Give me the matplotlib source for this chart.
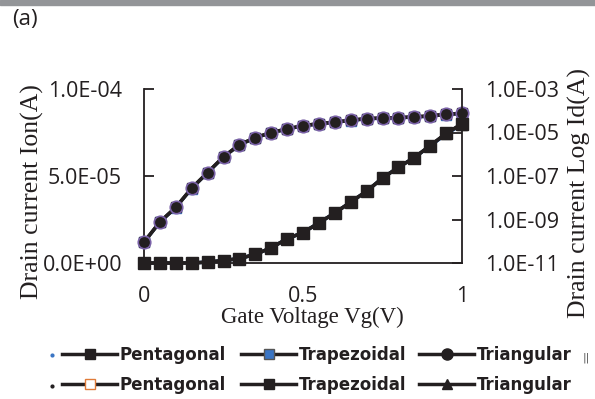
import matplotlib
matplotlib.use("Agg")
import matplotlib.pyplot as plt
from matplotlib.lines import Line2D
from matplotlib.patches import Rectangle
from matplotlib.ticker import FixedLocator, FixedFormatter

# ---- data ----
vg = [0.00, 0.05, 0.10, 0.15, 0.20, 0.25, 0.30, 0.35, 0.40, 0.45, 0.50,
      0.55, 0.60, 0.65, 0.70, 0.75, 0.80, 0.85, 0.90, 0.95, 1.00]

# linear drain current Ion (A)
ion_pent = [1.20e-5, 2.36e-5, 3.20e-5, 4.30e-5, 5.20e-5, 6.10e-5, 6.80e-5,
            7.20e-5, 7.50e-5, 7.70e-5, 7.90e-5, 8.00e-5, 8.10e-5, 8.20e-5,
            8.30e-5, 8.33e-5, 8.35e-5, 8.40e-5, 8.45e-5, 8.55e-5, 8.60e-5]
ion_trap = [1.18e-5, 2.34e-5, 3.18e-5, 4.28e-5, 5.18e-5, 6.08e-5, 6.78e-5,
            7.18e-5, 7.48e-5, 7.68e-5, 7.88e-5, 7.98e-5, 8.08e-5, 8.18e-5,
            8.28e-5, 8.31e-5, 8.33e-5, 8.38e-5, 8.43e-5, 8.53e-5, 8.58e-5]
ion_tri = [1.20e-5, 2.36e-5, 3.20e-5, 4.30e-5, 5.20e-5, 6.10e-5, 6.80e-5,
           7.20e-5, 7.50e-5, 7.70e-5, 7.90e-5, 8.00e-5, 8.10e-5, 8.20e-5,
           8.30e-5, 8.33e-5, 8.35e-5, 8.40e-5, 8.45e-5, 8.55e-5, 8.60e-5]

# log drain current Id (A)
id_pent = [1.0e-11, 1.0e-11, 1.0e-11, 1.0e-11, 1.1e-11, 1.3e-11, 1.6e-11,
           2.5e-11, 5.0e-11, 1.3e-10, 2.5e-10, 7.0e-10, 2.0e-9, 6.3e-9,
           2.0e-8, 8.0e-8, 2.5e-7, 7.0e-7, 2.4e-6, 8.5e-6, 2.3e-5]
id_trap = [1.0e-11, 1.0e-11, 1.0e-11, 1.0e-11, 1.1e-11, 1.3e-11, 1.6e-11,
           2.5e-11, 5.0e-11, 1.3e-10, 2.5e-10, 7.0e-10, 2.0e-9, 6.3e-9,
           2.0e-8, 8.0e-8, 2.5e-7, 7.0e-7, 2.5e-6, 9.0e-6, 2.5e-5]
id_tri = [1.0e-11, 1.0e-11, 1.0e-11, 1.0e-11, 1.1e-11, 1.3e-11, 1.6e-11,
          2.5e-11, 5.0e-11, 1.3e-10, 2.5e-10, 7.0e-10, 2.0e-9, 6.3e-9,
          2.0e-8, 8.0e-8, 2.5e-7, 7.0e-7, 2.5e-6, 9.0e-6, 2.5e-5]

left_ticks = [0.0, 5.0e-5, 1.0e-4]
left_labels = ["0.0E+00", "5.0E-05", "1.0E-04"]
right_ticks = [1e-11, 1e-9, 1e-7, 1e-5, 1e-3]
right_labels = ["1.0E-11", "1.0E-09", "1.0E-07", "1.0E-05", "1.0E-03"]
x_ticks = [0, 0.5, 1]
x_labels = ["0", "0.5", "1"]
names = ["Pentagonal", "Trapezoidal", "Triangular"]

INK = "#231f20"
BLUE = "#3a75c4"
PURPLE = "#7b62a8"

# ---- figure ----
W, H = 595, 399
fig = plt.figure(figsize=(W / 100, H / 100), dpi=100)
fig.patches.append(Rectangle((0, 1 - 5 / H), 1, 5 / H, transform=fig.transFigure,
                             color="#939598", zorder=0))
fig.text(12 / W, 1 - 19 / H, "(a)", fontsize=16, family="Open Sans",
         va="center", ha="left", color=INK)

x0, x1, ytop, ybot = 144, 462, 89, 263
ax = fig.add_axes([x0 / W, 1 - ybot / H, (x1 - x0) / W, (ybot - ytop) / H])
ax2 = ax.twinx()

serif = "Liberation Serif"

# linear series
ax.plot(vg, ion_trap, color=BLUE, lw=2.2, marker="s", ms=7,
        mfc=BLUE, mec=BLUE, clip_on=False, zorder=3)
ax.plot(vg, ion_pent, color=INK, lw=2.5, marker="s", ms=7,
        mfc=INK, mec=INK, clip_on=False, zorder=4)
ax.plot(vg, ion_tri, color=INK, lw=2.5, marker="o", ms=9,
        mfc=INK, mec=PURPLE, mew=1.2, clip_on=False, zorder=5)

# log series
ax2.plot(vg, id_pent, color=BLUE, lw=2.5, marker="s", ms=7,
         mfc=INK, mec=INK, clip_on=False, zorder=3)
ax2.plot(vg, id_tri, color=INK, lw=2.5, marker="^", ms=7,
         mfc=INK, mec=INK, clip_on=False, zorder=4)
ax2.plot(vg, id_trap, color=INK, lw=2.5, marker="s", ms=8,
         mfc=INK, mec=INK, clip_on=False, zorder=5)

ax.set_xlim(0, 1)
ax.set_ylim(0, 1.0e-4)
ax2.set_yscale("log")
ax2.set_ylim(1e-11, 1e-3)

ax.yaxis.set_major_locator(FixedLocator(left_ticks))
ax.yaxis.set_major_formatter(FixedFormatter(left_labels))
ax2.yaxis.set_major_locator(FixedLocator(right_ticks))
ax2.yaxis.set_major_formatter(FixedFormatter(right_labels))
ax2.yaxis.set_minor_locator(FixedLocator([]))
ax.xaxis.set_major_locator(FixedLocator(x_ticks))
ax.xaxis.set_major_formatter(FixedFormatter(x_labels))

for a in (ax, ax2):
    a.spines["top"].set_visible(False)
    for s in a.spines.values():
        s.set_linewidth(1.3)
        s.set_color(INK)
ax.spines["right"].set_visible(False)
ax2.spines["left"].set_visible(False)
ax2.spines["bottom"].set_visible(False)

ax.tick_params(axis="y", direction="in", length=7, width=1.3, pad=15.8, colors=INK)
ax.tick_params(axis="x", length=0, pad=16.5, colors=INK)
ax2.tick_params(axis="y", direction="in", length=7, width=1.3, pad=16.5, colors=INK)
for lab in ax.get_yticklabels() + ax.get_xticklabels() + ax2.get_yticklabels():
    lab.set_family("Open Sans")
    lab.set_fontsize(15.5)

ax.set_xlabel("Gate Voltage Vg(V)", family=serif, fontsize=16.5, color=INK)
ax.set_ylabel("Drain current Ion(A)", family=serif, fontsize=18.5, color=INK)
ax2.set_ylabel("Drain current Log Id(A)", family=serif, fontsize=18.5, color=INK)
ax.xaxis.set_label_coords((312 - x0) / (x1 - x0), (ybot - 307) / (ybot - ytop))
ax.yaxis.set_label_coords((44 - x0) / (x1 - x0), (ybot - 191.5) / (ybot - ytop))
ax2.yaxis.set_label_coords((568 - x0) / (x1 - x0), (ybot - 193.5) / (ybot - ytop))

# legends: one per column, two rows each (linear row, log row)
col_handles = [
    [Line2D([], [], color=INK, lw=2.5, marker="s", ms=7, mfc=INK, mec=INK),
     Line2D([], [], color=INK, lw=2.5, marker="s", ms=7, mfc="white", mec="#e07b39")],
    [Line2D([], [], color=INK, lw=2.5, marker="s", ms=7, mfc=BLUE, mec="#555555"),
     Line2D([], [], color=INK, lw=2.5, marker="s", ms=7, mfc=INK, mec=INK)],
    [Line2D([], [], color=INK, lw=2.5, marker="o", ms=8, mfc=INK, mec=INK),
     Line2D([], [], color=INK, lw=2.5, marker="^", ms=7, mfc=INK, mec=INK)],
]
col_x = [62, 241, 419]
leg_kw = dict(ncol=1, frameon=False, handlelength=3.3, handletextpad=0.15,
              labelspacing=0.72, borderpad=0, borderaxespad=0,
              prop=dict(family="DejaVu Sans", weight="bold", size=12))
for hs, name, cx in zip(col_handles, names, col_x):
    lg = fig.legend(hs, [name, name], loc="center left",
                    bbox_to_anchor=(cx / W, 1 - 370 / H), **leg_kw)
    for t in lg.get_texts():
        t.set_color(INK)

# small stray marks beside the legend
fig.add_artist(Line2D([52 / W], [1 - 355 / H], marker="o", ms=2, color=BLUE,
                      transform=fig.transFigure))
fig.add_artist(Line2D([52 / W], [1 - 386 / H], marker="o", ms=2, color=INK,
                      transform=fig.transFigure))
fig.text(586 / W, 1 - 358 / H, "||", fontsize=8, family="DejaVu Sans",
         color="#555555", ha="center", va="center")

fig.savefig("out.png", dpi=100)
